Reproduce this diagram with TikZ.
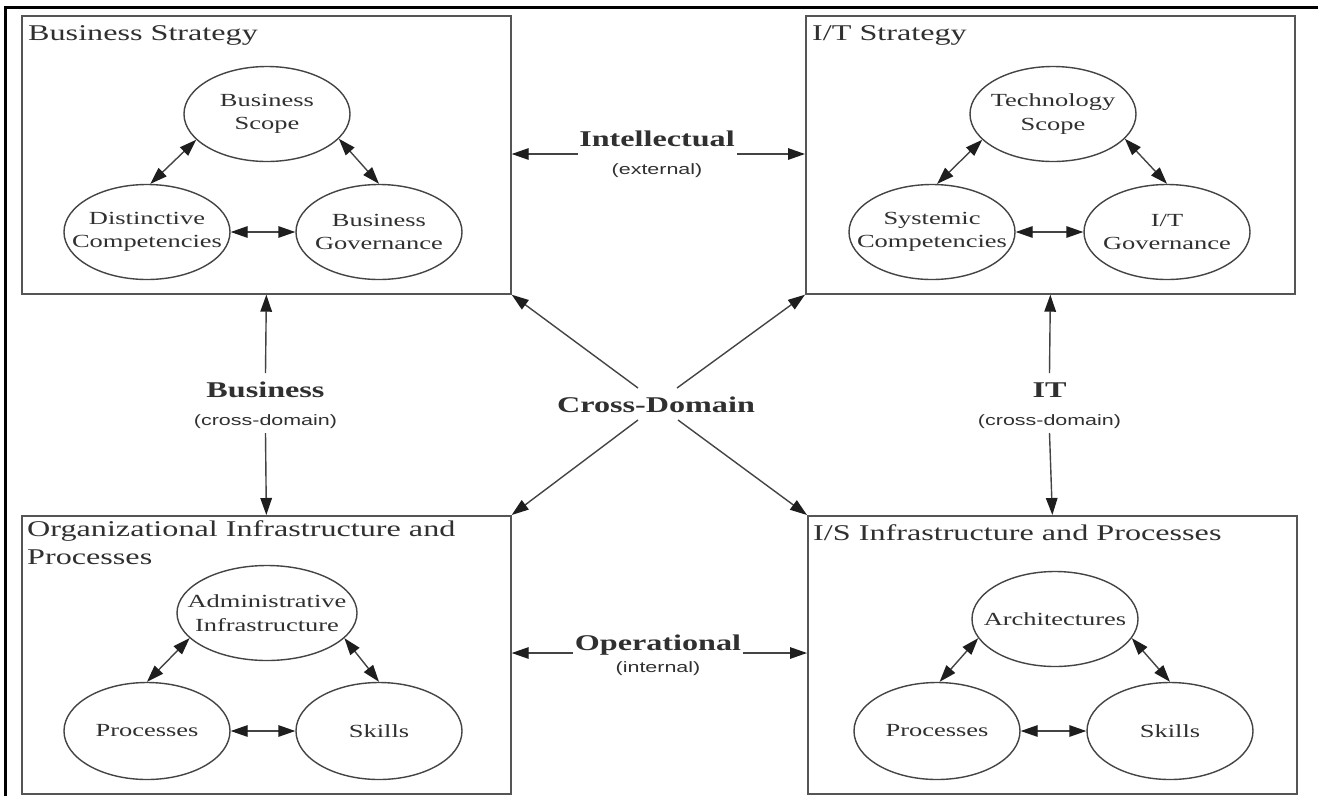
\documentclass[tikz,border=0pt]{standalone}
\usepackage{fontspec}
\setmainfont{Liberation Serif}[FakeStretch=1.43]
\newfontfamily\lsans{Liberation Sans}[FakeStretch=1.43]
\usetikzlibrary{shapes.geometric,arrows.meta}
\definecolor{txt}{HTML}{303030}
\definecolor{ln}{HTML}{444444}
\definecolor{bx}{HTML}{555555}
\definecolor{tipc}{HTML}{1E1E1E}
\tikzset{
  tipst/.tip={Triangle[length=17pt,width=11.5pt,color=tipc,fill=tipc]},
  box/.style={draw=bx, line width=1.7pt, fill=white, minimum width=489, minimum height=278, anchor=north west, inner sep=0},
  ell/.style={ellipse, draw=ln, line width=1.4pt, minimum width=166, minimum height=95, inner sep=0},
  etxt/.style={align=center, text=txt, inner sep=0, font=\fontsize{18.5}{23.5}\selectfont},
  ttl/.style={anchor=base west, align=left, text=txt, inner sep=0, font=\fontsize{22.5}{28.3}\selectfont},
  big/.style={anchor=base, text=txt, inner sep=0, font=\fontsize{22.5}{27}\selectfont\bfseries},
  small/.style={anchor=base, text=txt, inner sep=0, font=\lsans\fontsize{15}{18}\selectfont},
  arr/.style={tipst-tipst, draw=ln, line width=1.4pt},
  one/.style={-tipst, draw=ln, line width=1.4pt},
}
\begin{document}
\begin{tikzpicture}[x=1pt,y=-1pt]
\useasboundingbox (0,0) rectangle (1318,796);
\fill[white] (0,0) rectangle (1318,796);
% outer frame
\draw[black, line width=3pt] (5,796) -- (5,7) -- (1318,7);

% boxes
\node[box] (bs) at (21,15) {};
\node[box] (it) at (805,15) {};
\node[box] (oip) at (21,515) {};
\node[box] (isip) at (807,515) {};

% titles
\node[ttl] (tbs) at (28,40) {Business Strategy};
\node[ttl] (tit) at (812,40) {I/T Strategy};
\node[ttl, anchor=north west] (toip) at (27,520) {Organizational Infrastructure and\\Processes};
\node[ttl] (tisip) at (813,540) {I/S Infrastructure and Processes};

% Business Strategy ellipses
\node[ell] (bscope) at (267,114) {};
\node[etxt] at (bscope) {Business\\Scope};
\node[ell] (bdist) at (147,232) {};
\node[etxt] at (bdist) {Distinctive\\Competencies};
\node[ell] (bgov) at (379,232) {};
\node[etxt] at (bgov) {Business\\Governance};
\draw[arr] (bscope.200) -- (bdist.86);
\draw[arr] (bscope.341) -- (bgov.90);
\draw[arr] (bdist.east) -- (bgov.west);

% I/T Strategy ellipses
\node[ell] (tscope) at (1053,114) {};
\node[etxt] at (tscope) {Technology\\Scope};
\node[ell] (tsys) at (932,232) {};
\node[etxt] at (tsys) {Systemic\\Competencies};
\node[ell] (tgov) at (1167,232) {};
\node[etxt] at (tgov) {I/T\\Governance};
\draw[arr] (tscope.200) -- (tsys.84);
\draw[arr] (tscope.341) -- (tgov.90);
\draw[arr] (tsys.east) -- (tgov.west);

% Organizational ellipses
\node[ell, minimum width=180] (oadm) at (267,613) {};
\node[etxt] at (oadm) {Administrative\\Infrastructure};
\node[ell, minimum height=97] (oproc) at (147,731) {};
\node[etxt] at (oproc) {Processes};
\node[ell, minimum height=97] (oskill) at (379,731) {};
\node[etxt] at (oskill) {Skills};
\draw[arr] (oadm.198) -- (oproc.90);
\draw[arr] (oadm.342) -- (oskill.90);
\draw[arr] (oproc.east) -- (oskill.west);

% I/S ellipses
\node[ell] (sarch) at (1055,619) {};
\node[etxt] at (sarch) {Architectures};
\node[ell, minimum height=97] (sproc) at (937,731) {};
\node[etxt] at (sproc) {Processes};
\node[ell, minimum height=97] (sskill) at (1170,731) {};
\node[etxt] at (sskill) {Skills};
\draw[arr] (sarch.194) -- (sproc.87);
\draw[arr] (sarch.346) -- (sskill.90);
\draw[arr] (sproc.east) -- (sskill.west);

% Intellectual
\node[big] (intel) at (657,146) {Intellectual};
\node[small] (ext) at (657,174) {(external)};
\coordinate (intL) at (578,154);
\coordinate (intR) at (737,154);
\draw[one] (intL) -- (bs.east |- intL);
\draw[one] (intR) -- (it.west |- intR);

% Operational
\node[big] (oper) at (658,650) {Operational};
\node[small] (intn) at (658,672) {(internal)};
\coordinate (opL) at (573,653);
\coordinate (opR) at (743,653);
\draw[one] (opL) -- (oip.east |- opL);
\draw[one] (opR) -- (isip.west |- opR);

% Business vertical
\node[big] (busl) at (265.5,397) {Business};
\node[small] (busc) at (265.5,425) {(cross-domain)};
\coordinate (busT) at (265.5,373);
\coordinate (busB) at (265.5,433);
\draw[one] (busT) -- (bs.south);
\draw[one] (busB) -- (oip.north);

% IT vertical
\node[big] (itl) at (1049.5,397) {IT};
\node[small] (itc) at (1049.5,425) {(cross-domain)};
\coordinate (itT) at (1049.5,373);
\coordinate (itB) at (1049.5,433);
\draw[one] (itT) -- (it.south);
\draw[one] (itB) -- (isip.north);

% Cross-Domain
\node[big] (cross) at (656,412) {Cross-Domain};
\coordinate (cNW) at (638,388);
\coordinate (cNE) at (677,388);
\coordinate (cSW) at (638,420);
\coordinate (cSE) at (678,420);
\draw[one] (cNW) -- (bs.south east);
\draw[one] (cNE) -- (it.south west);
\draw[one] (cSW) -- (oip.north east);
\draw[one] (cSE) -- (isip.north west);
\end{tikzpicture}
\end{document}
